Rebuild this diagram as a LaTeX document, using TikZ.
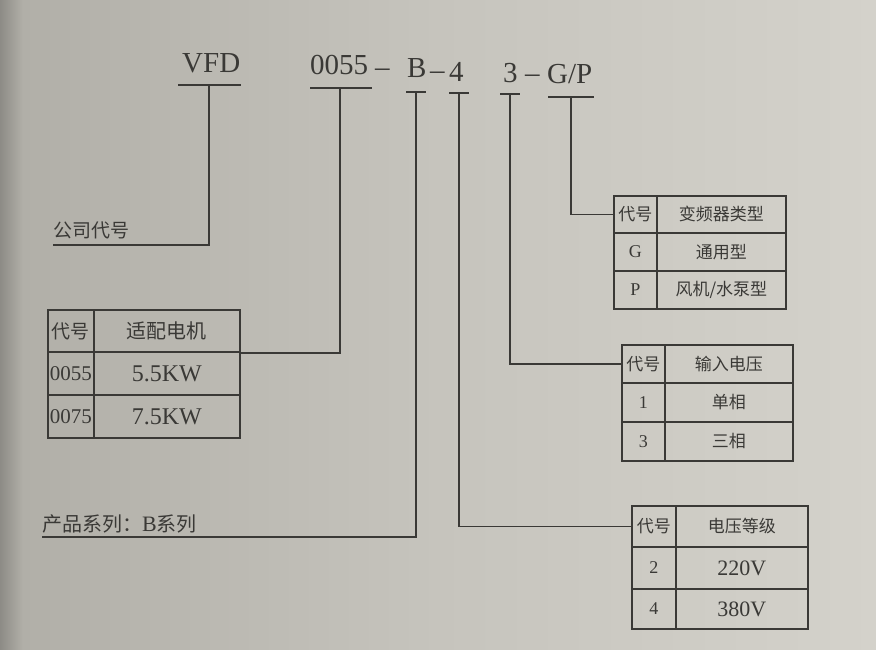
\documentclass[tikz,border=0pt]{standalone}
\usepackage{fontspec}
\setmainfont{Liberation Serif}
\newfontfamily\cjk{Noto Sans CJK SC}
\definecolor{ink}{RGB}{58,57,54}
\definecolor{bgL}{RGB}{176,174,167}
\definecolor{bgM}{RGB}{198,196,189}
\definecolor{bgR}{RGB}{212,210,203}
\tikzset{
  ln/.style={draw=ink, line width=1.8pt},
  cell/.style={draw=ink, line width=1.8pt, inner sep=0pt, anchor=north west, text=ink},
  ttl/.style={inner sep=0pt, anchor=base west, text=ink, font=\fontsize{29}{29}\selectfont},
  zh/.style={font=\cjk\fontsize{17}{17}\selectfont},
  zhL/.style={font=\cjk\fontsize{19}{19}\selectfont},
  zhlab/.style={inner sep=0pt, anchor=base west, text=ink, font=\cjk\fontsize{19}{19}\selectfont},
  lat/.style={font=\fontsize{18}{18}\selectfont},
  latbig/.style={font=\fontsize{22}{22}\selectfont},
  latkw/.style={font=\fontsize{24}{24}\selectfont},
  latcode/.style={font=\fontsize{21}{21}\selectfont},
}
\begin{document}
\begin{tikzpicture}[x=1pt,y=-1pt]
\useasboundingbox (0,0) rectangle (876,650);
\shade[left color=bgL, right color=bgR, middle color=bgM] (0,0) rectangle (876,650);
\shade[left color=bgL!80!black, right color=bgL] (0,0) rectangle (22,650);

% ---- title pieces ----
\node[ttl] (vfd)   at (182,73) {VFD};
\node[ttl] (n0055) at (310,75) {0055};
\node[ttl] (d1)    at (375,77) {–};
\node[ttl] (nb)    at (407,78) {B};
\node[ttl] (d2)    at (430,80) {–};
\node[ttl] (n4)    at (449,82) {4};
\node[ttl] (n3)    at (503,83) {3};
\node[ttl] (d3)    at (525,83) {–};
\node[ttl] (ngp)   at (547,84) {G/P};

% ---- underline coordinates ----
\coordinate (uvA) at (178,85);  \coordinate (uvB) at (241,85);  \coordinate (uvM) at (209,85);
\coordinate (u0A) at (310,88);  \coordinate (u0B) at (372,88);  \coordinate (u0M) at (340,88);
\coordinate (ubA) at (406,92);  \coordinate (ubB) at (426,92);  \coordinate (ubM) at (416,92);
\coordinate (u4A) at (449,93);  \coordinate (u4B) at (469,93);  \coordinate (u4M) at (459,93);
\coordinate (u3A) at (500,94);  \coordinate (u3B) at (520,94);  \coordinate (u3M) at (510,94);
\coordinate (ugA) at (548,97);  \coordinate (ugB) at (594,97);  \coordinate (ugM) at (571,97);
\foreach \a/\b in {uvA/uvB,u0A/u0B,ubA/ubB,u4A/u4B,u3A/u3B,ugA/ugB}
  \draw[ln] (\a) -- (\b);

% ---- left labels ----
\node[zhlab] (gs) at (53,237) {公司代号};
\coordinate (gsW) at (53,245); \coordinate (gsE) at (209,245);
\node[zhlab, font=\cjk\fontsize{20}{20}\selectfont] (cp) at (42,531) {产品系列：{\fontspec{Liberation Serif}\fontsize{22}{22}\selectfont B}系列};
\coordinate (cpW) at (42,537); \coordinate (cpE) at (416,537);

% ---- table 0 : motor ----
\node[cell, zhL, minimum width=46pt, minimum height=42pt]  (t0a) at (47,309) {代号};
\node[cell, font=\cjk\fontsize{20}{20}\selectfont, minimum width=146pt, minimum height=42pt] (t0b) at (93,309) {适配电机};
\node[cell, latcode, minimum width=46pt, minimum height=43pt]  (t0c) at (47,351) {0055};
\node[cell, latkw, minimum width=146pt, minimum height=43pt] (t0d) at (93,351) {5.5KW};
\node[cell, latcode, minimum width=46pt, minimum height=43pt]  (t0e) at (47,394) {0075};
\node[cell, latkw, minimum width=146pt, minimum height=43pt] (t0f) at (93,394) {7.5KW};

% ---- table 1 : converter type ----
\node[cell, zh, minimum width=43pt, minimum height=37pt]  (t1a) at (613,195) {代号};
\node[cell, zh, minimum width=129pt, minimum height=37pt] (t1b) at (656,195) {变频器类型};
\node[cell, lat, minimum width=43pt, minimum height=38pt] (t1c) at (613,232) {G};
\node[cell, zh, minimum width=129pt, minimum height=38pt] (t1d) at (656,232) {通用型};
\node[cell, lat, minimum width=43pt, minimum height=38pt] (t1e) at (613,270) {P};
\node[cell, zh, minimum width=129pt, minimum height=38pt] (t1f) at (656,270) {风机/水泵型};

% ---- table 2 : input voltage ----
\node[cell, zh, minimum width=43pt, minimum height=38pt]  (t2a) at (621,344) {代号};
\node[cell, zh, minimum width=128pt, minimum height=38pt] (t2b) at (664,344) {输入电压};
\node[cell, lat, minimum width=43pt, minimum height=39pt] (t2c) at (621,382) {1};
\node[cell, zh, minimum width=128pt, minimum height=39pt] (t2d) at (664,382) {单相};
\node[cell, lat, minimum width=43pt, minimum height=39pt] (t2e) at (621,421) {3};
\node[cell, zh, minimum width=128pt, minimum height=39pt] (t2f) at (664,421) {三相};

% ---- table 3 : voltage class ----
\node[cell, zh, minimum width=44pt, minimum height=41pt]  (t3a) at (631,505) {代号};
\node[cell, zh, minimum width=132pt, minimum height=41pt] (t3b) at (675,505) {电压等级};
\node[cell, lat, minimum width=44pt, minimum height=42pt] (t3c) at (631,546) {2};
\node[cell, latbig, minimum width=132pt, minimum height=42pt] (t3d) at (675,546) {220V};
\node[cell, lat, minimum width=44pt, minimum height=40pt] (t3e) at (631,588) {4};
\node[cell, latbig, minimum width=132pt, minimum height=40pt] (t3f) at (675,588) {380V};

% ---- connectors ----
\draw[ln] (uvM) -- (gsE) -- (gsW);
\draw[ln] (u0M) |- (t0b.south east);
\draw[ln] (ubM) -- (cpE) -- (cpW);
\draw[ln] (u4M) |- (t3a.west);
\draw[ln] (u3M) |- (t2a.west);
\draw[ln] (ugM) |- (t1a.west);
\end{tikzpicture}
\end{document}
